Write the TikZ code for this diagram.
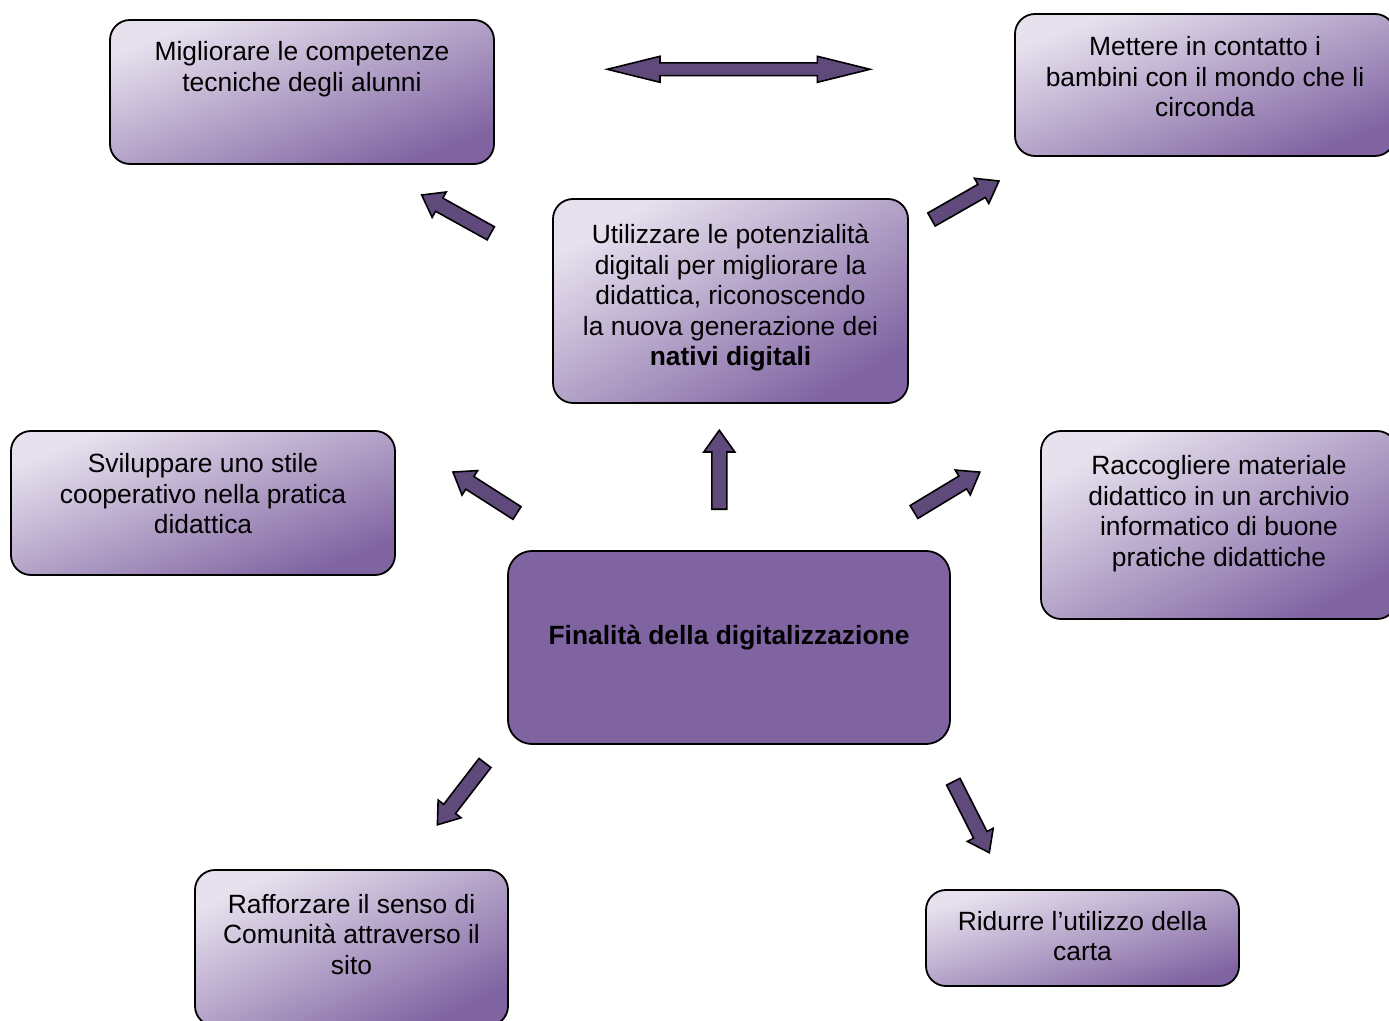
\documentclass[tikz,border=0pt]{standalone}
\usepackage{fontspec}
\setmainfont{Liberation Sans}
\definecolor{boxlight}{RGB}{231,225,238}
\definecolor{boxmid}{RGB}{184,171,204}
\definecolor{boxdark}{RGB}{128,100,162}
\definecolor{arrowfill}{RGB}{96,74,124}
\newcommand\blockarr[7]{%
  \draw[barrow, shift={(#1,#2)}, rotate=#3]
    (0,#5) -- ({#4-#7},#5) -- ({#4-#7},#6) -- (#4,0) -- ({#4-#7},-#6) -- ({#4-#7},-#5) -- (0,-#5) -- cycle;}
\newcommand\txtbox[4]{\parbox[c][#2pt][t]{#1pt}{\centering\rule{0pt}{#3pt}#4}}
\tikzset{
  gbox/.style={draw=black, line width=0.9pt, rounded corners=10pt, inner sep=0pt,
    shade, top color=boxlight, middle color=boxmid, bottom color=boxdark, shading angle=#1,
    font=\fontsize{13.2pt}{15.25pt}\selectfont},
  gbox/.default=22,
  corebox/.style={draw=black, line width=0.9pt, rounded corners=12pt, inner sep=0pt,
    fill=boxdark, font=\fontsize{13.2pt}{15.25pt}\selectfont\bfseries},
  barrow/.style={draw=black, line width=0.8pt, fill=arrowfill, line join=miter}
}
\begin{document}
\begin{tikzpicture}[x=0.5pt,y=-0.5pt]
\begin{scope}
\clip (0,0) rectangle (1389,1021);
\node[gbox=21] (b1) at (302,92) {\txtbox{192}{72}{20.5}{Migliorare le competenze\\ tecniche degli alunni}};
\node[gbox=21] (b2) at (1205,85) {\txtbox{190}{71}{21}{Mettere in contatto i\\ bambini con il mondo che li\\ circonda}};
\node[gbox=30] (b3) at (730.5,301) {\txtbox{177.5}{102}{22.5}{Utilizzare le potenzialità\\ digitali per migliorare la\\ didattica, riconoscendo\\ la nuova generazione dei\\ \textbf{nativi digitali}}};
\node[gbox=21] (b4) at (203,503) {\txtbox{192}{72}{21}{Sviluppare uno stile\\ cooperativo nella pratica\\ didattica}};
\node[gbox=28] (b5) at (1219,525) {\txtbox{178}{94}{22}{Raccogliere materiale\\ didattico in un archivio\\ informatico di buone\\ pratiche didattiche}};
\node[corebox] (core) at (729,647.5) {\txtbox{221}{96.5}{47}{Finalità della digitalizzazione}};
\node[gbox=26] (b7) at (351.5,948) {\txtbox{156.5}{78}{21.5}{Rafforzare il senso di\\ Comunità attraverso il\\ sito}};
\node[gbox=17] (b8) at (1082.5,938) {\txtbox{156.5}{48}{20}{Ridurre l’utilizzo della\\ carta}};
\end{scope}
% block arrows
\blockarr{490.8}{233.3}{151}{79}{7.5}{14.5}{20}
\blockarr{931.5}{219.5}{29.7}{77.7}{7.5}{14.5}{20}
\blockarr{719.3}{509.3}{90}{79}{7.5}{15.5}{21.7}
\blockarr{517}{513}{147.4}{76}{7.5}{14.5}{20}
\blockarr{914}{512}{31.2}{77}{7.5}{14.5}{20}
\blockarr{485}{763}{-127.6}{78}{7.5}{14.5}{20}
\blockarr{953.3}{781.7}{-63.1}{79.6}{7.5}{14.5}{20}
% double arrow
\draw[barrow] (607.3,69.3) -- (660,56.3) -- (660,62.9) -- (817.3,62.9) -- (817.3,56.3) -- (870,69.3)
  -- (817.3,82.3) -- (817.3,75.7) -- (660,75.7) -- (660,82.3) -- cycle;
\pgfresetboundingbox
\useasboundingbox (0,0) rectangle (1389,1021);
\end{tikzpicture}
\end{document}
